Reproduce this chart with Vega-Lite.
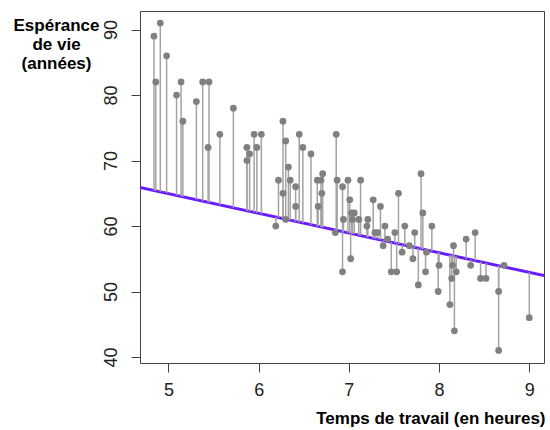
{
  "$schema": "https://vega.github.io/schema/vega-lite/v6.json",
  "autosize": "none",
  "width": 404,
  "height": 352,
  "padding": {"left": 140, "top": 11, "right": 6, "bottom": 67},
  "background": "white",
  "config": {
    "view": {"stroke": "#444", "strokeWidth": 1},
    "axis": {
      "domain": false,
      "grid": false,
      "tickColor": "#444",
      "tickSize": 9,
      "tickWidth": 1,
      "labelFont": "Liberation Sans",
      "labelFontSize": 18,
      "labelColor": "#222",
      "titleFont": "Liberation Sans",
      "titleFontSize": 17,
      "titleFontWeight": "bold",
      "titleColor": "#000"
    }
  },
  "datasets": {
    "pts": [
      {"x": 4.84, "y": 89, "fit": 65.43},
      {"x": 4.91, "y": 91, "fit": 65.22},
      {"x": 4.86, "y": 82, "fit": 65.37},
      {"x": 4.98, "y": 86, "fit": 65.01},
      {"x": 5.09, "y": 80, "fit": 64.68},
      {"x": 5.14, "y": 82, "fit": 64.53},
      {"x": 5.16, "y": 76, "fit": 64.47},
      {"x": 5.31, "y": 79, "fit": 64.02},
      {"x": 5.38, "y": 82, "fit": 63.81},
      {"x": 5.45, "y": 82, "fit": 63.60},
      {"x": 5.44, "y": 72, "fit": 63.63},
      {"x": 5.57, "y": 74, "fit": 63.23},
      {"x": 5.72, "y": 78, "fit": 62.78},
      {"x": 5.87, "y": 72, "fit": 62.33},
      {"x": 5.87, "y": 70, "fit": 62.33},
      {"x": 5.90, "y": 71, "fit": 62.24},
      {"x": 5.95, "y": 74, "fit": 62.09},
      {"x": 5.98, "y": 72, "fit": 62.00},
      {"x": 6.03, "y": 74, "fit": 61.85},
      {"x": 6.27, "y": 76, "fit": 61.13},
      {"x": 6.30, "y": 73, "fit": 61.04},
      {"x": 6.22, "y": 67, "fit": 61.28},
      {"x": 6.27, "y": 65, "fit": 61.13},
      {"x": 6.30, "y": 61, "fit": 61.04},
      {"x": 6.19, "y": 60, "fit": 61.37},
      {"x": 6.33, "y": 69, "fit": 60.95},
      {"x": 6.35, "y": 67, "fit": 60.89},
      {"x": 6.41, "y": 66, "fit": 60.71},
      {"x": 6.41, "y": 63, "fit": 60.71},
      {"x": 6.45, "y": 74, "fit": 60.59},
      {"x": 6.49, "y": 72, "fit": 60.46},
      {"x": 6.58, "y": 71, "fit": 60.19},
      {"x": 6.65, "y": 67, "fit": 59.98},
      {"x": 6.71, "y": 68, "fit": 59.80},
      {"x": 6.69, "y": 67, "fit": 59.86},
      {"x": 6.70, "y": 65, "fit": 59.83},
      {"x": 6.66, "y": 63, "fit": 59.95},
      {"x": 6.86, "y": 74, "fit": 59.35},
      {"x": 6.87, "y": 67, "fit": 59.32},
      {"x": 6.93, "y": 66, "fit": 59.14},
      {"x": 6.99, "y": 67, "fit": 58.96},
      {"x": 6.85, "y": 59, "fit": 59.38},
      {"x": 7.01, "y": 64, "fit": 58.90},
      {"x": 7.02, "y": 55, "fit": 58.87},
      {"x": 6.94, "y": 61, "fit": 59.11},
      {"x": 7.13, "y": 67, "fit": 58.54},
      {"x": 7.03, "y": 62, "fit": 58.84},
      {"x": 7.06, "y": 62, "fit": 58.75},
      {"x": 7.04, "y": 61, "fit": 58.81},
      {"x": 7.11, "y": 61, "fit": 58.60},
      {"x": 6.93, "y": 53, "fit": 59.14},
      {"x": 7.21, "y": 61, "fit": 58.30},
      {"x": 7.20, "y": 60, "fit": 58.33},
      {"x": 7.27, "y": 64, "fit": 58.12},
      {"x": 7.29, "y": 59, "fit": 58.06},
      {"x": 7.32, "y": 59, "fit": 57.97},
      {"x": 7.35, "y": 63, "fit": 57.88},
      {"x": 7.40, "y": 60, "fit": 57.73},
      {"x": 7.38, "y": 57, "fit": 57.79},
      {"x": 7.43, "y": 58, "fit": 57.64},
      {"x": 7.47, "y": 53, "fit": 57.52},
      {"x": 7.53, "y": 53, "fit": 57.33},
      {"x": 7.51, "y": 59, "fit": 57.39},
      {"x": 7.55, "y": 65, "fit": 57.27},
      {"x": 7.59, "y": 56, "fit": 57.15},
      {"x": 7.62, "y": 60, "fit": 57.06},
      {"x": 7.67, "y": 57, "fit": 56.91},
      {"x": 7.71, "y": 55, "fit": 56.79},
      {"x": 7.73, "y": 59, "fit": 56.73},
      {"x": 7.77, "y": 51, "fit": 56.61},
      {"x": 7.80, "y": 68, "fit": 56.52},
      {"x": 7.82, "y": 62, "fit": 56.46},
      {"x": 7.86, "y": 56, "fit": 56.34},
      {"x": 7.85, "y": 53, "fit": 56.37},
      {"x": 7.92, "y": 60, "fit": 56.16},
      {"x": 8.00, "y": 54, "fit": 55.92},
      {"x": 7.99, "y": 50, "fit": 55.95},
      {"x": 8.16, "y": 57, "fit": 55.44},
      {"x": 8.15, "y": 54, "fit": 55.47},
      {"x": 8.14, "y": 52, "fit": 55.50},
      {"x": 8.12, "y": 48, "fit": 55.56},
      {"x": 8.17, "y": 44, "fit": 55.41},
      {"x": 8.19, "y": 53, "fit": 55.35},
      {"x": 8.30, "y": 58, "fit": 55.02},
      {"x": 8.35, "y": 54, "fit": 54.87},
      {"x": 8.40, "y": 59, "fit": 54.72},
      {"x": 8.46, "y": 52, "fit": 54.54},
      {"x": 8.52, "y": 52, "fit": 54.35},
      {"x": 8.66, "y": 50, "fit": 53.93},
      {"x": 8.66, "y": 41, "fit": 53.93},
      {"x": 8.72, "y": 54, "fit": 53.75},
      {"x": 9.00, "y": 46, "fit": 52.91}
    ],
    "reg": [
      {"x": 4.685, "y": 65.90},
      {"x": 9.163, "y": 52.42}
    ]
  },
  "layer": [
    {
      "data": {"name": "reg"},
      "mark": {"type": "line", "color": "#6a1cff", "strokeWidth": 3, "clip": true},
      "encoding": {
        "x": {
          "field": "x", "type": "quantitative",
          "scale": {"domain": [4.685, 9.163], "nice": false, "zero": false},
          "axis": {
            "values": [5, 6, 7, 8, 9],
            "format": "d",
            "labelPadding": 9,
            "title": "Temps de travail (en heures)",
            "titleAlign": "right",
            "titleAnchor": "end",
            "titleX": 405,
            "titleY": 60,
            "titleBaseline": "alphabetic"
          }
        },
        "y": {
          "field": "y", "type": "quantitative",
          "scale": {"domain": [39.08, 92.84], "nice": false, "zero": false},
          "axis": {
            "values": [40, 50, 60, 70, 80, 90],
            "format": "d",
            "labelAngle": 270,
            "labelAlign": "center",
            "labelBaseline": "alphabetic",
            "labelPadding": 15,
            "title": ["Espérance", "de vie", "(années)"],
            "titleAngle": 0,
            "titleAlign": "center",
            "titleAnchor": "start",
            "titleX": -84,
            "titleY": 19,
            "titleBaseline": "alphabetic",
            "titleLineHeight": 19
          }
        }
      }
    },
    {
      "data": {"name": "pts"},
      "mark": {"type": "rule", "color": "#a3a3a3", "strokeWidth": 1.5},
      "encoding": {
        "x": {"field": "x", "type": "quantitative"},
        "y": {"field": "y", "type": "quantitative"},
        "y2": {"field": "fit"}
      }
    },
    {
      "data": {"name": "pts"},
      "mark": {"type": "circle", "color": "#808080", "opacity": 1, "size": 46},
      "encoding": {
        "x": {"field": "x", "type": "quantitative"},
        "y": {"field": "y", "type": "quantitative"}
      }
    }
  ]
}
